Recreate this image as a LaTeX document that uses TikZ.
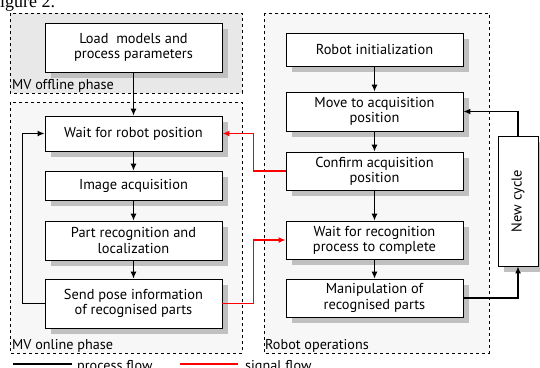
\documentclass[tikz,border=0pt]{standalone}
\usepackage{fontspec}
\setmainfont{PT Sans}
\newfontfamily\serifcap{Liberation Serif}
\usetikzlibrary{shadows,arrows.meta}
\definecolor{offfill}{HTML}{E8E8E8}
\definecolor{onfill}{HTML}{F7F7F7}
\definecolor{shade}{HTML}{C0C0C0}
\tikzset{
  group/.style={draw=black, dashed, line width=0.6pt},
  stepbox/.style={draw=black, fill=white, line width=0.8pt, minimum width=177pt,
    align=center, inner sep=0pt, font=\fontsize{14.4}{15.3}\selectfont,
    drop shadow={shadow xshift=6pt, shadow yshift=-6pt, fill=shade, opacity=1}},
  flow/.style={draw=black, line width=1.1pt, -{Latex[length=7pt,width=6pt]}},
  sig/.style={draw=red, line width=1.5pt, -{Latex[length=7pt,width=6pt]}},
  grouplabel/.style={anchor=south west, inner sep=1pt, font=\fontsize{14.2}{15}\selectfont},
}
\begin{document}
\begin{tikzpicture}[x=1pt,y=-1pt]
\useasboundingbox (0,0) rectangle (540,367);
% caption fragment
\node[anchor=base west, inner sep=0pt, font=\serifcap\fontsize{18}{18}\selectfont] (cap) at (0,7) {igure 2.};
% groups
\draw[group, fill=offfill] (10,13) rectangle (242,93);
\draw[group, fill=onfill] (10,102) rectangle (242,353);
\draw[group, fill=onfill] (264,13) rectangle (489,353);
\node[grouplabel] (goff) at (11,94) {MV offline phase};
\node[grouplabel] (gon) at (11,354) {MV online phase};
\node[grouplabel] (grob) at (264,354) {Robot operations};
% left column
\node[stepbox, minimum height=49pt] (load) at (133.5,47.5) {Load\ \ models and\\process parameters};
\node[stepbox, minimum height=35pt] (wait) at (133.5,133.5) {Wait for robot position};
\node[stepbox, minimum height=29pt] (img) at (133.5,185.5) {Image acquisition};
\node[stepbox, minimum height=39pt] (part) at (133.5,240.5) {Part recognition and\\localization};
\node[stepbox, minimum height=49pt] (send) at (133.5,303.5) {Send pose information\\of recognised parts};
% right column
\node[stepbox, minimum height=33pt] (init) at (374.5,49.5) {Robot initialization};
\node[stepbox, minimum height=39pt] (move) at (374.5,111.5) {Move to acquisition\\position};
\node[stepbox, minimum height=38pt] (confirm) at (374.5,171) {Confirm acquisition\\position};
\node[stepbox, minimum height=38pt] (waitrec) at (374.5,240) {Wait for recognition\\process to complete};
\node[stepbox, minimum height=38pt] (manip) at (374.5,298) {Manipulation of\\recognised parts};
\node[stepbox, minimum width=40pt, minimum height=130pt] (newc) at (518,201) {\rotatebox{90}{New cycle}};
% process flow
\draw[flow] (load) -- (wait);
\draw[flow] (wait) -- (img);
\draw[flow] (img) -- (part);
\draw[flow] (part) -- (send);
\draw[flow, line width=1.4pt] (send.west) -- ++(-22,0) |- (wait.west);
\draw[flow] (init) -- (move);
\draw[flow] (move) -- (confirm);
\draw[flow] (confirm) -- (waitrec);
\draw[flow] (waitrec) -- (manip);
\draw[flow, line width=1.8pt] (manip.east) -| (newc.south);
\draw[flow, line width=1.4pt] (newc.north) |- (move.east);
% signal flow
\coordinate (ra) at ([xshift=-32pt]confirm.west);
\coordinate (rb) at ([xshift=31pt]send.east);
\draw[sig] (confirm.west) -- (ra) |- (wait.east);
\draw[sig] (send.east) -- (rb) |- (waitrec.west);
% legend
\coordinate (lpa) at (13,364);
\coordinate (lpb) at (72,364);
\coordinate (lsa) at (180,364);
\coordinate (lsb) at (238,364);
\draw[black, line width=1.8pt] (lpa) -- (lpb);
\draw[red, line width=1.8pt] (lsa) -- (lsb);
\node[anchor=base west, inner sep=0pt, font=\fontsize{14.2}{15}\selectfont] (lpt) at (77,370) {process flow};
\node[anchor=base west, inner sep=0pt, font=\fontsize{14.2}{15}\selectfont] (lst) at (245,370) {signal flow};
\end{tikzpicture}
\end{document}
